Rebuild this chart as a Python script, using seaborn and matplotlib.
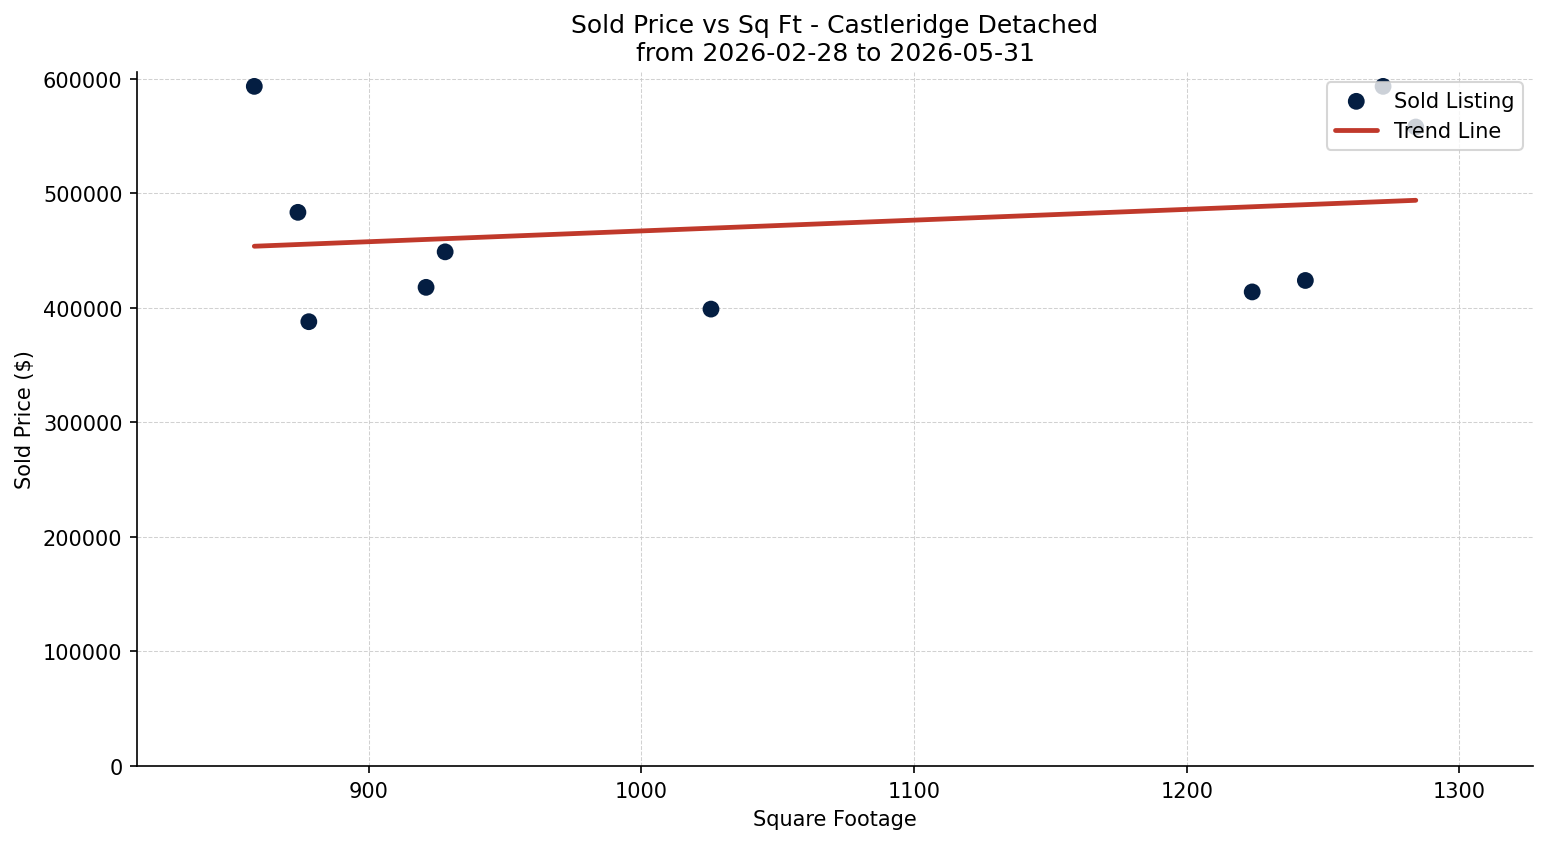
import numpy as np
import pandas as pd
import matplotlib
matplotlib.use("Agg")
import matplotlib.pyplot as plt
import seaborn as sns

sqft = [858, 874, 878, 921, 928, 1025.5, 1224, 1243.5, 1272, 1284]
price = [593500, 483500, 388000, 418000, 449000, 399000, 414000, 424000, 593500, 558000]

title = "Sold Price vs Sq Ft - Castleridge Detached\nfrom 2026-02-28 to 2026-05-31"

sns.set_style("ticks", {"axes.edgecolor": "black", "text.color": "black",
                        "axes.labelcolor": "black", "xtick.color": "black",
                        "ytick.color": "black"})
plt.rcParams['font.family'] = ['DejaVu Sans']

df = pd.DataFrame({"sqft": sqft, "price": price})

fig, ax = plt.subplots(figsize=(10.313, 5.633), dpi=150)
fig.subplots_adjust(left=0.0886, right=0.991, top=0.9136, bottom=0.0923)
sns.scatterplot(data=df, x="sqft", y="price", ax=ax, color="#041E42", s=65,
                edgecolor="none", label="Sold Listing", zorder=3)

coef = np.polyfit(df["sqft"], df["price"], 1)
xs = np.array([df["sqft"].min(), df["sqft"].max()])
sns.lineplot(x=xs, y=np.polyval(coef, xs), ax=ax, color="#C0392B", linewidth=2.3,
             label="Trend Line", zorder=2)

ax.set_xlim(815, 1327)
ax.set_ylim(0, 606000)
ax.set_xticks([900, 1000, 1100, 1200, 1300])
ax.set_yticks([0, 100000, 200000, 300000, 400000, 500000, 600000])
ax.ticklabel_format(style="plain", axis="y")
ax.grid(True, linestyle="--", linewidth=0.5, color="#cccccc", alpha=0.9)
ax.set_axisbelow(True)
sns.despine(ax=ax)
for sp in ax.spines.values():
    sp.set_color("black")
ax.set_xlabel("Square Footage")
ax.set_ylabel("Sold Price ($)")
ax.set_title(title, fontsize=12)
ax.legend(loc="upper right")

fig.savefig("out.png", dpi=150)
